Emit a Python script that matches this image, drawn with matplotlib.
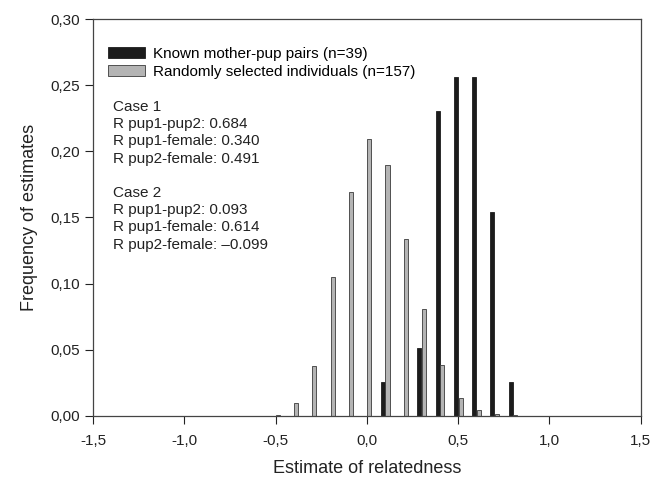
import matplotlib
matplotlib.use("Agg")
import matplotlib.pyplot as plt
from matplotlib.ticker import FuncFormatter
import numpy as np

plt.rcParams['font.family'] = ['Liberation Sans', 'DejaVu Sans']

# relatedness classes (bin centres)
known_x = [0.1, 0.2, 0.3, 0.4, 0.5, 0.6, 0.7, 0.8]
known_freq = [0.0256, 0.0, 0.0513, 0.2308, 0.2564, 0.2564, 0.1538, 0.0256]

random_x = [-0.5, -0.4, -0.3, -0.2, -0.1, 0.0, 0.1, 0.2, 0.3, 0.4, 0.5, 0.6, 0.7, 0.8]
random_freq = [0.001, 0.0096, 0.038, 0.105, 0.169, 0.209, 0.190, 0.134, 0.081,
               0.0385, 0.0134, 0.0045, 0.0015, 0.0006]

labels = ["Known mother-pup pairs (n=39)", "Randomly selected individuals (n=157)"]

notes = ("Case 1\nR pup1-pup2: 0.684\nR pup1-female: 0.340\nR pup2-female: 0.491\n\n"
         "Case 2\nR pup1-pup2: 0.093\nR pup1-female: 0.614\nR pup2-female: \u20130.099")

fig = plt.figure(figsize=(6.64, 4.78), dpi=100)
ax = fig.add_axes([0.140, 0.130, 0.825, 0.830])

w = 0.022
kx = np.array(known_x)
rx = np.array(random_x)
ax.bar(kx - 0.012, known_freq, width=w, color='#1c1c1c', edgecolor='#1c1c1c',
       linewidth=0.6, label=labels[0], zorder=2)
ax.bar(rx + 0.013, random_freq, width=w, color='#b4b4b4', edgecolor='#3a3a3a',
       linewidth=0.6, label=labels[1], zorder=2)

ax.set_xlim(-1.5, 1.5)
ax.set_ylim(0, 0.30)
ax.set_xticks(np.arange(-1.5, 1.51, 0.5))
ax.set_yticks(np.arange(0, 0.301, 0.05))
ax.xaxis.set_major_formatter(FuncFormatter(lambda v, p: f"{v:.1f}".replace('.', ',')))
ax.yaxis.set_major_formatter(FuncFormatter(lambda v, p: f"{v:.2f}".replace('.', ',')))
ax.tick_params(direction='out', length=6, width=0.8, labelsize=11, colors='#222222')
ax.tick_params(axis='x', pad=7)
for s in ax.spines.values():
    s.set_color('#444444')
    s.set_linewidth(0.9)

ax.set_xlabel("Estimate of relatedness", fontsize=13, color='#222222', labelpad=8.5)
ax.set_ylabel("Frequency of estimates", fontsize=13, color='#222222', labelpad=9)

ax.legend(loc='upper left', bbox_to_anchor=(0.017, 0.945), frameon=False, fontsize=11,
          handlelength=2.4, handleheight=0.7, handletextpad=0.5, labelspacing=0.25,
          borderaxespad=0)

ax.text(0.036, 0.796, notes, transform=ax.transAxes, ha='left', va='top',
        fontsize=11, linespacing=1.29, color='#222222')

fig.savefig("out.png", dpi=100)
